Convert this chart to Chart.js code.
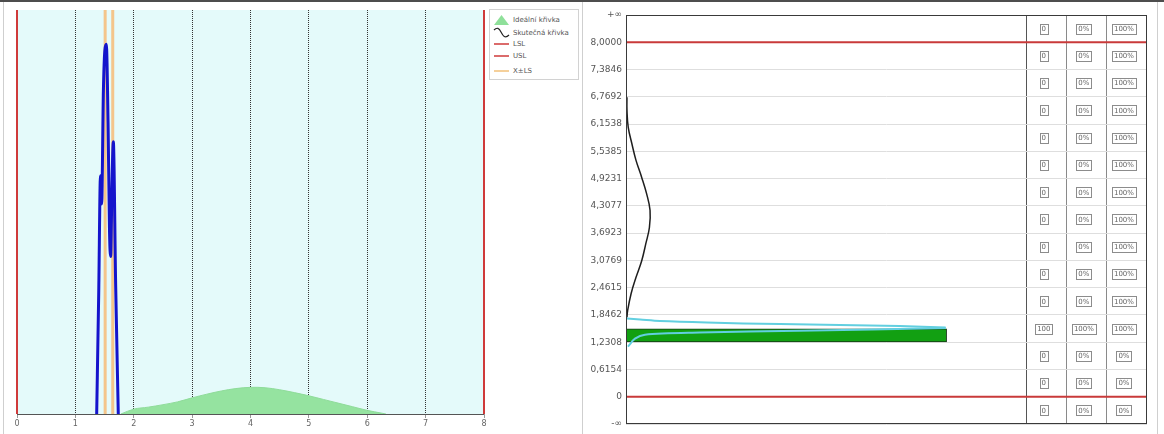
<!DOCTYPE html>
<html>
<head>
<meta charset="utf-8">
<script src="https://cdn.jsdelivr.net/npm/chart.js@4.4.1/dist/chart.umd.min.js"></script>
<style>
  body{margin:0;width:1164px;height:434px;background:#fff;position:relative;overflow:hidden;font-family:"DejaVu Sans",sans-serif}
  #topbar{position:absolute;left:0;top:0;width:1164px;height:2px;background:#4d4d4d}
  .vline{position:absolute;top:2px;width:1px;height:432px;background:#cfcfcf}
  #cl{position:absolute;left:0;top:0}
  #cr{position:absolute;left:583px;top:0}
  #legend{position:absolute;left:489px;top:9px;width:88px;height:69px;border:1px solid #d2d2d2;background:#fff;font-size:7px;color:#555}
  .li{position:absolute;left:3px;height:12px;display:flex;align-items:center;white-space:nowrap}
  .li svg{margin-right:3px}
</style>
</head>
<body>
<div id="topbar"></div>
<div class="vline" style="left:3px"></div>
<div class="vline" style="left:582px"></div>
<div class="vline" style="left:1157px"></div>
<canvas id="cl" width="583" height="434"></canvas>
<canvas id="cr" width="581" height="434"></canvas>
<div id="legend"></div>
<script>
// ---- distribution panel data ----
const xTickLabels = ['0','1','2','3','4','5','6','7','8'];
const LSL = 0;
const USL = 8;
const limitBand = [1.51, 1.64];               // X ± LS
const idealX = [1.78, 2.0, 2.25, 2.5, 2.75, 3.0, 3.25, 3.5, 3.75, 4.0, 4.25, 4.5, 4.75, 5.0, 5.25, 5.5, 5.75, 6.0, 6.25, 6.32];
const idealY = [0.0, 0.012, 0.017, 0.023, 0.030, 0.040, 0.049, 0.057, 0.063, 0.066, 0.065, 0.060, 0.053, 0.045, 0.036, 0.027, 0.018, 0.009, 0.002, 0.0];
const actualX = [1.365, 1.40, 1.43, 1.45, 1.48, 1.505, 1.53, 1.56, 1.585, 1.605, 1.625, 1.65, 1.69, 1.735];
const actualY = [0.0, 0.30, 0.59, 0.52, 0.80, 0.90, 0.915, 0.72, 0.45, 0.39, 0.55, 0.674, 0.32, 0.0];
const legendLabels = ['Ideální křivka', 'Skutečná křivka', 'LSL', 'USL', 'X±LS'];

// ---- histogram panel data ----
const yTickPos = [-0.6154, 0, 0.6154, 1.2308, 1.8462, 2.4615, 3.0769, 3.6923, 4.3077, 4.9231, 5.5385, 6.1538, 6.7692, 7.3846, 8, 8.6154];
const yTickLabels = ['-∞','0','0,6154','1,2308','1,8462','2,4615','3,0769','3,6923','4,3077','4,9231','5,5385','6,1538','6,7692','7,3846','8,0000','+∞'];
const binCounts = [0, 0, 0, 100, 0, 0, 0, 0, 0, 0, 0, 0, 0, 0, 0];
const binPct    = ['0%','0%','0%','100%','0%','0%','0%','0%','0%','0%','0%','0%','0%','0%','0%'];
const binCum    = ['0%','0%','0%','100%','100%','100%','100%','100%','100%','100%','100%','100%','100%','100%','100%'];
const idealCount = [0.3, 0.3, 0.7, 1.8, 3.1, 4.9, 6.4, 7.5, 7.3, 6.2, 4.9, 3.1, 1.6, 0.5, 0.3];
const idealVal   = [6.76, 6.47, 6.08, 5.72, 5.34, 4.95, 4.59, 4.21, 3.82, 3.46, 3.07, 2.69, 2.33, 1.94, 1.79];
const upperCount = [0.3, 4.4, 10.6, 25.2, 48, 66.7, 85.4, 99.7];
const upperVal   = [1.763, 1.741, 1.707, 1.673, 1.639, 1.617, 1.594, 1.56];
const lowerCount = [0.6, 2.8, 5.9, 23, 54, 99.7];
const lowerVal   = [1.13, 1.31, 1.40, 1.447, 1.49, 1.549];

// layout constants for the histogram panel
const TABLE_EDGES = [125, 137.5, 150, 162.5];
const X_MAX = 162.5;

const pts = (xs, ys) => xs.map((x, i) => ({x, y: ys[i]}));
const FONT = '"DejaVu Sans", sans-serif';

// ---- legend ----
const icons = [
  '<svg width="17" height="12"><polygon points="1,11 8.5,1 16,11" fill="#8fe09a"/></svg>',
  '<svg width="17" height="12"><path d="M1,3 C4,0 6,1 8,5 S12,12 16,8" fill="none" stroke="#222" stroke-width="1.2"/></svg>',
  '<svg width="17" height="12"><line x1="1" y1="6" x2="16" y2="6" stroke="#cf3a3a" stroke-width="1.5"/></svg>',
  '<svg width="17" height="12"><line x1="1" y1="6" x2="16" y2="6" stroke="#cf3a3a" stroke-width="1.5"/></svg>',
  '<svg width="17" height="12"><line x1="1" y1="6" x2="16" y2="6" stroke="#f2c07a" stroke-width="1.5"/></svg>'
];
const legendTops = [4, 17, 28, 40, 55];
document.getElementById('legend').innerHTML = legendLabels.map((t, i) =>
  `<div class="li" style="top:${legendTops[i]}px">${icons[i]}<span>${t}</span></div>`).join('');

// ---- left: distribution curves ----
const bgPlugin = {
  id: 'plotBg',
  beforeDraw(chart) {
    const {ctx, chartArea: a} = chart;
    ctx.save();
    ctx.fillStyle = '#e4fafa';
    ctx.fillRect(a.left, a.top, a.width, a.height);
    ctx.restore();
  }
};

new Chart(document.getElementById('cl'), {
  type: 'line',
  data: {
    datasets: [
      {label: legendLabels[2], data: [{x: LSL, y: 0}, {x: LSL, y: 1}], borderColor: '#cf3a3a', borderWidth: 2, pointRadius: 0, clip: false, order: 1},
      {label: legendLabels[3], data: [{x: USL, y: 0}, {x: USL, y: 1}], borderColor: '#cf3a3a', borderWidth: 2, pointRadius: 0, clip: false, order: 1},
      {label: legendLabels[1], data: pts(actualX, actualY), borderColor: '#1414cc', borderWidth: 3, pointRadius: 0, cubicInterpolationMode: 'monotone', order: 2},
      {label: legendLabels[4], data: [{x: limitBand[0], y: 0}, {x: limitBand[0], y: 1}, {x: (limitBand[0] + limitBand[1]) / 2, y: null}, {x: limitBand[1], y: 0}, {x: limitBand[1], y: 1}],
        borderColor: '#f4c58a', borderWidth: 3, pointRadius: 0, spanGaps: false, order: 3},
      {label: legendLabels[0], data: pts(idealX, idealY), fill: 'origin', backgroundColor: '#95e3a0', borderColor: '#8fdc9a', borderWidth: 1, pointRadius: 0, tension: 0.35, order: 5}
    ]
  },
  options: {
    responsive: false, animation: false, devicePixelRatio: 1,
    layout: {padding: {left: 17, right: 99, top: 10, bottom: 0}},
    plugins: {legend: {display: false}, tooltip: {enabled: false}},
    scales: {
      x: {
        type: 'linear', min: 0, max: 8,
        ticks: {stepSize: 1, callback: (v, i) => xTickLabels[i], color: '#666', font: {size: 8, family: FONT}, padding: 1, maxRotation: 0},
        grid: {color: c => (c.tick && (c.tick.value === LSL || c.tick.value === USL)) ? 'rgba(0,0,0,0)' : '#333',
               tickColor: '#999', tickLength: 4, lineWidth: 1, borderDash: [1, 1]},
        border: {display: false, dash: [1, 1]},
        afterFit: s => { s.height = 20; }
      },
      y: {
        type: 'linear', min: 0, max: 1,
        ticks: {display: false, stepSize: 1},
        grid: {color: c => (c.tick && c.tick.value === 0) ? '#555' : 'rgba(0,0,0,0)', drawTicks: false},
        border: {display: false},
        afterFit: s => { s.width = 0; }
      }
    }
  },
  plugins: [bgPlugin]
});

// ---- right: histogram with bin table ----
const binPlugin = {
  id: 'binTable',
  afterDatasetsDraw(chart) {
    const {ctx, chartArea: a, scales: {x, y}} = chart;
    ctx.save();
    ctx.strokeStyle = '#3a3a3a';
    ctx.lineWidth = 1;
    ctx.strokeRect(a.left + 0.5, a.top + 0.5, a.width - 1, a.height - 1);
    ctx.font = '7px ' + FONT;
    ctx.textAlign = 'center';
    ctx.textBaseline = 'middle';
    binCounts.forEach((c, i) => {
      const yc = (y.getPixelForValue(yTickPos[i]) + y.getPixelForValue(yTickPos[i + 1])) / 2;
      [String(c), binPct[i], binCum[i]].forEach((t, j) => {
        const xc = (x.getPixelForValue(TABLE_EDGES[j]) + x.getPixelForValue(TABLE_EDGES[j + 1])) / 2 - 3;
        const w = Math.round(ctx.measureText(t).width + 4), h = 10;
        ctx.strokeStyle = '#8c8c8c';
        ctx.strokeRect(Math.round(xc - w / 2) + 0.5, Math.round(yc - h / 2) + 0.5, w, h);
        ctx.fillStyle = '#666';
        ctx.fillText(t, xc, yc + 0.5);
      });
    });
    ctx.restore();
  }
};

const binStep = yTickPos[2] - yTickPos[1];

new Chart(document.getElementById('cr'), {
  type: 'bar',
  data: {
    datasets: [
      {type: 'line', data: [{x: 0, y: USL}, {x: X_MAX, y: USL}], borderColor: '#c93a3a', borderWidth: 2, pointRadius: 0, clip: false, order: 1},
      {type: 'line', data: [{x: 0, y: LSL}, {x: X_MAX, y: LSL}], borderColor: '#c93a3a', borderWidth: 2, pointRadius: 0, clip: false, order: 1},
      {type: 'line', data: pts(upperCount, upperVal), borderColor: '#62cfe0', borderWidth: 2, pointRadius: 0, tension: 0.3, order: 2},
      {type: 'line', data: pts(lowerCount, lowerVal), borderColor: '#62cfe0', borderWidth: 2, pointRadius: 0, tension: 0.3, order: 2},
      {type: 'line', data: pts(idealCount, idealVal), borderColor: '#1e1e1e', borderWidth: 1.5, pointRadius: 0, tension: 0.4, order: 3},
      {type: 'bar', indexAxis: 'y',
        data: binCounts.map((c, i) => ({x: c, y: yTickPos[i] + binStep / 4})),
        backgroundColor: c => (c.raw && c.raw.x > 0) ? '#12a012' : 'rgba(0,0,0,0)',
        borderColor: c => (c.raw && c.raw.x > 0) ? '#163816' : 'rgba(0,0,0,0)',
        borderWidth: c => (c.raw && c.raw.x > 0) ? 1 : 0,
        barThickness: 13, order: 4}
    ]
  },
  options: {
    responsive: false, animation: false, devicePixelRatio: 1,
    layout: {padding: {left: 0, right: 17, top: 15, bottom: 10}},
    plugins: {legend: {display: false}, tooltip: {enabled: false}},
    scales: {
      x: {
        type: 'linear', min: 0, max: X_MAX, offset: false,
        afterBuildTicks: s => { s.ticks = TABLE_EDGES.slice(0, 3).map(v => ({value: v})); },
        ticks: {display: false},
        grid: {color: c => (c.tick && c.tick.value === TABLE_EDGES[0]) ? '#555' : '#8a8a8a', drawTicks: false, offset: false},
        border: {display: false},
        afterFit: s => { s.height = 0; }
      },
      y: {
        type: 'linear', min: yTickPos[0], max: yTickPos[yTickPos.length - 1], offset: false,
        afterBuildTicks: s => { s.ticks = yTickPos.map(v => ({value: v})); },
        ticks: {autoSkip: false, callback: (v, i) => yTickLabels[i], color: '#555', font: {size: 9, family: FONT}, padding: 4},
        grid: {color: '#dedede', drawTicks: false, offset: false},
        border: {display: false},
        afterFit: s => { s.width = 43; }
      }
    }
  },
  plugins: [binPlugin]
});
</script>
</body>
</html>
